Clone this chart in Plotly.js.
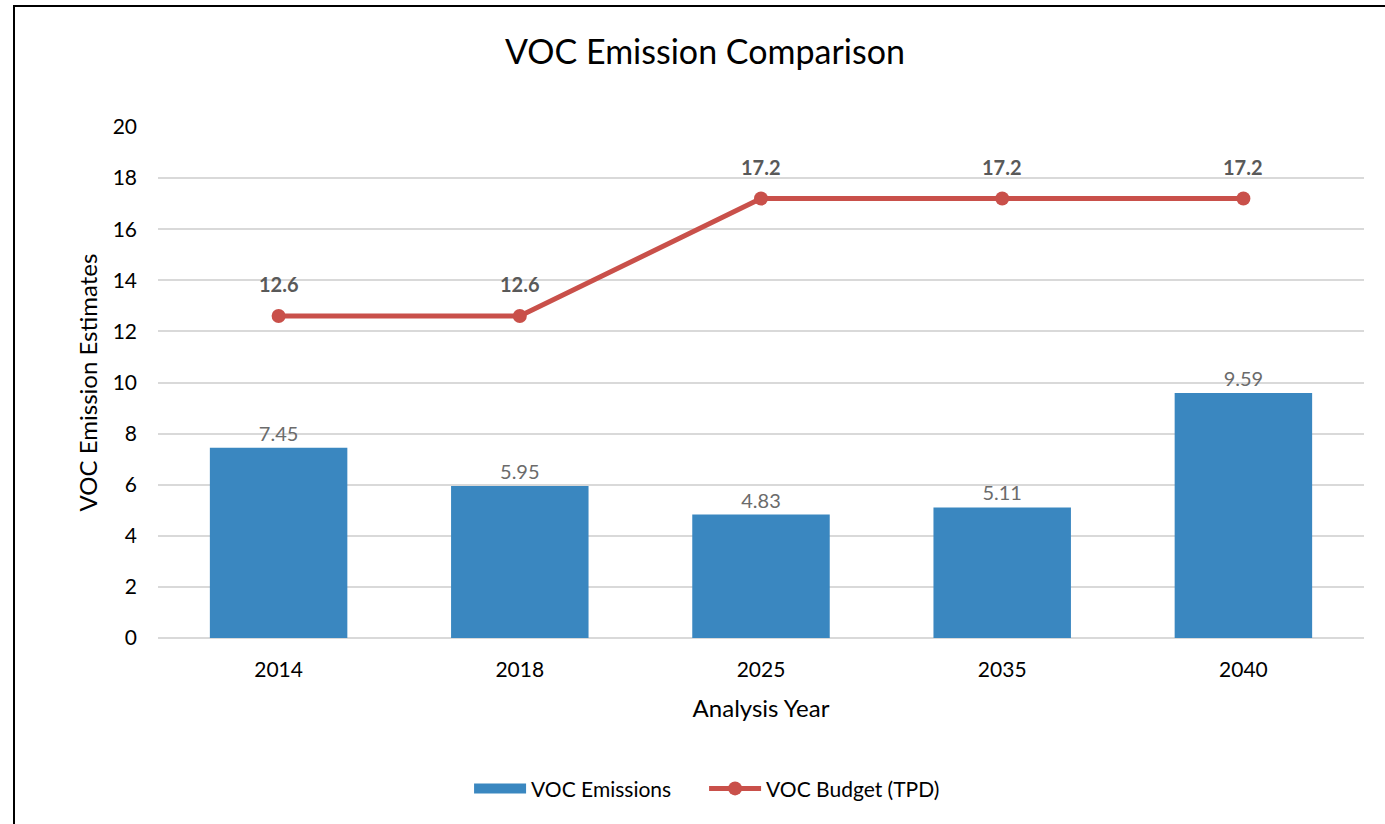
<!DOCTYPE html>
<html>
<head>
<meta charset="utf-8">
<script src="https://cdn.plot.ly/plotly-3.0.1.min.js"></script>
<style>
  html, body { margin: 0; padding: 0; overflow: hidden; background: #fff; }
  #chart { width: 1385px; height: 824px; }
  #frame { position: absolute; left: 13px; top: 5px; width: 1400px; height: 900px;
           border-left: 2px solid #000; border-top: 2px solid #000; pointer-events: none; }
</style>
</head>
<body>
<div id="chart"></div>
<div id="frame"></div>
<script>
const years = ["2014", "2018", "2025", "2035", "2040"];
const emissions = [7.45, 5.95, 4.83, 5.11, 9.59];
const budget = [12.6, 12.6, 17.2, 17.2, 17.2];
const emissionLabels = ["7.45", "5.95", "4.83", "5.11", "9.59"];
const budgetLabels = ["12.6", "12.6", "17.2", "17.2", "17.2"];
const yTicks = [0, 2, 4, 6, 8, 10, 12, 14, 16, 18, 20];

const FONT = "Lato, 'Open Sans', sans-serif";
const BLUE = "#3A87C0";
const RED = "#C9504A";

const traces = [
  {
    type: "bar",
    name: "VOC Emissions",
    x: years,
    y: emissions,
    text: emissionLabels,
    textposition: "outside",
    textfont: { family: FONT, size: 20, color: "#6b6b6b" },
    cliponaxis: false,
    marker: { color: BLUE },
    showlegend: false,
    hoverinfo: "x+y"
  },
  {
    type: "scatter",
    mode: "lines+markers",
    name: "VOC Budget (TPD)",
    x: years,
    y: budget,
    line: { color: RED, width: 5 },
    marker: { color: RED, size: 14 },
    cliponaxis: false,
    showlegend: false
  },
  // legend-only entries (no marks drawn)
  {
    type: "scatter", mode: "lines", name: "VOC Emissions",
    x: [null], y: [null],
    line: { color: BLUE, width: 15 }, hoverinfo: "skip"
  },
  {
    type: "scatter", mode: "lines+markers", name: "VOC Budget (TPD)",
    x: [null], y: [null],
    line: { color: RED, width: 5 }, marker: { color: RED, size: 14 }, hoverinfo: "skip"
  }
];

const annotations = budget.map((v, i) => ({
  x: i, y: v, xref: "x", yref: "y",
  text: "<b>" + budgetLabels[i] + "</b>",
  showarrow: false, yshift: 32,
  font: { family: FONT, size: 20, color: "#595959" }
}));

const layout = {
  width: 1385, height: 824,
  margin: { l: 158, r: 21, t: 127, b: 186 },
  paper_bgcolor: "#ffffff",
  plot_bgcolor: "#ffffff",
  font: { family: FONT, color: "#000000" },
  title: {
    text: "VOC Emission Comparison",
    font: { family: FONT, size: 34, color: "#000000" },
    x: 0.509, xanchor: "center", y: 0.937, yanchor: "middle"
  },
  bargap: 0.43,
  xaxis: {
    type: "category",
    range: [-0.5, 4.5],
    autorange: false,
    tickfont: { family: FONT, size: 21, color: "#000000" },
    title: { text: "Analysis Year", font: { family: FONT, size: 24, color: "#000000" }, standoff: 20 },
    showgrid: false, showline: false, ticks: "",
    ticklabelstandoff: 17
  },
  yaxis: {
    range: [0, 20],
    autorange: false,
    tickvals: yTicks,
    ticktext: yTicks.map(String),
    tickfont: { family: FONT, size: 21, color: "#000000" },
    title: { text: "VOC Emission Estimates", font: { family: FONT, size: 24, color: "#000000" }, standoff: 8 },
    showgrid: true, gridcolor: "#d9d9d9", gridwidth: 1.5,
    zeroline: true, zerolinecolor: "#d9d9d9", zerolinewidth: 1.5,
    showline: false, ticks: "", ticklen: 0,
    ticklabelstandoff: 20
  },
  legend: {
    orientation: "h",
    x: 0.4528, xanchor: "center",
    y: -0.295, yanchor: "middle",
    font: { family: FONT, size: 21, color: "#000000" },
    itemwidth: 52,
    entrywidth: 168,
    entrywidthmode: "pixels"
  },
  annotations: annotations,
  showlegend: true
};

Plotly.newPlot("chart", traces, layout, { displayModeBar: false, responsive: false });
</script>
</body>
</html>
